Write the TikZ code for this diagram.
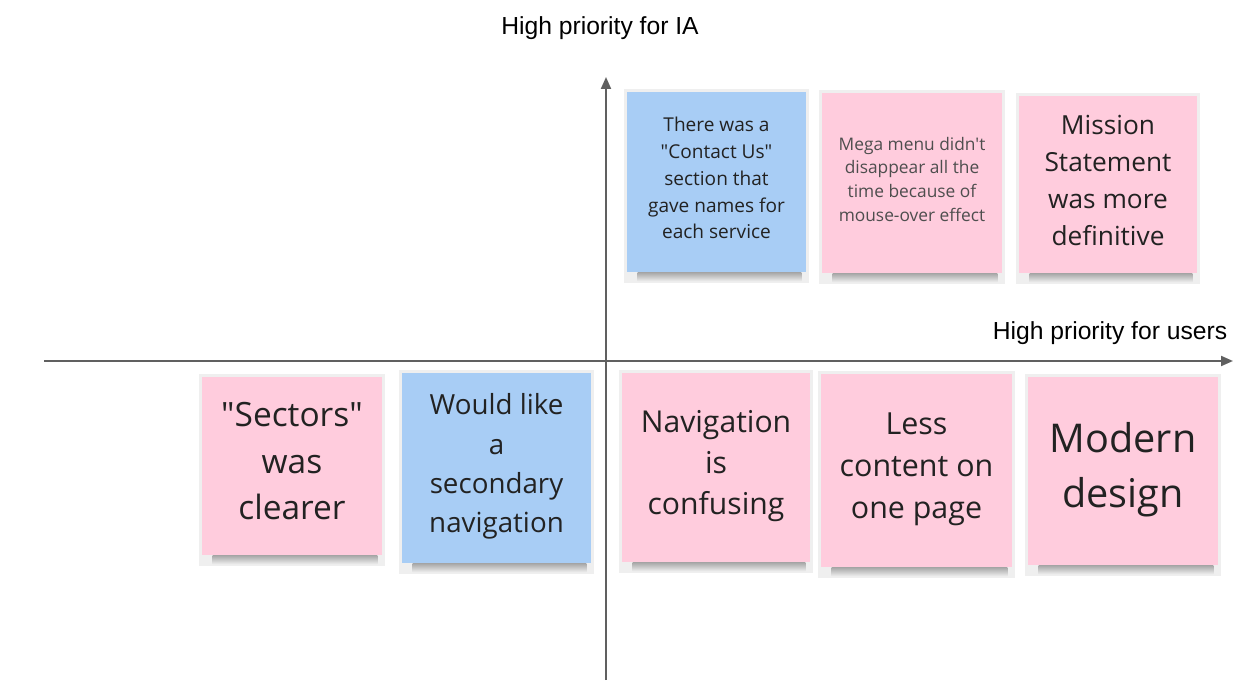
\documentclass[tikz,border=0pt]{standalone}
\usepackage{fontspec}
\setmainfont{Open Sans}[Ligatures=TeXOff]
\newfontfamily\labelfont{Liberation Sans}
\usetikzlibrary{arrows.meta,calc,backgrounds}

\definecolor{notepink}{HTML}{FFCCDD}
\definecolor{noteblue}{HTML}{A8CDF5}
\definecolor{noteframe}{HTML}{EFEFEF}
\definecolor{axisgray}{HTML}{606060}
\definecolor{notetext}{HTML}{222222}

% lines of a sticky note, lifted a little above the middle
\newcommand{\notelines}[1]{\raisebox{1.5pt}[\height][\depth]{\begin{tabular}{@{}c@{}}#1\end{tabular}}}

\tikzset{
	note/.style={rectangle, inner sep=0pt, align=center, text=notetext},
	pinknote/.style={note, fill=notepink},
	bluenote/.style={note, fill=noteblue},
	axis/.style={draw=axisgray, line width=1.5pt, -{Triangle[length=9pt,width=7.5pt]}},
	axislabel/.style={font=\labelfont\fontsize{18.5}{22}\selectfont, text=black}
}

\begin{document}
\begin{tikzpicture}[x=0.75pt, y=-0.75pt]
	\useasboundingbox (0,0) rectangle (1240,695);

	% axes
	\coordinate (ybot) at (606,680);
	\coordinate (ytop) at (606,77);
	\coordinate (xleft) at (44,361);
	\coordinate (xright) at (1233,361);
	\draw[axis] (ybot) -- (ytop);
	\draw[axis] (xleft) -- (xright);
	\node[axislabel] (ialabel) at (600,28) {High priority for IA};
	\node[axislabel] (userlabel) at (1110,333) {High priority for users};

	% upper right quadrant
	\node[bluenote, minimum width=134.25pt, minimum height=135pt, font=\fontsize{14.3}{20.1}\selectfont] (contact) at (716.5,182) {\notelines{There was a\\"Contact Us"\\section that\\gave names for\\each service}};
	\node[pinknote, minimum width=135pt, minimum height=135pt, font=\fontsize{13}{17.8}\selectfont, text=notetext!80] (megamenu) at (912,183) {\notelines{Mega menu didn't\\disappear all the\\time because of\\mouse-over effect}};
	\node[pinknote, minimum width=133.5pt, minimum height=132.75pt, font=\fontsize{19.7}{27.75}\selectfont] (mission) at (1108,184.5) {\notelines{Mission\\Statement\\was more\\definitive}};

	% lower half
	\node[pinknote, minimum width=135pt, minimum height=133.5pt, font=\fontsize{25.1}{34.9}\selectfont] (sectors) at (292,466) {\notelines{"Sectors"\\was\\clearer}};
	\node[bluenote, minimum width=141.75pt, minimum height=142.5pt, font=\fontsize{20.8}{29.5}\selectfont] (secondary) at (496.5,468) {\notelines{Would like\\a\\secondary\\navigation}};
	\node[pinknote, minimum width=141pt, minimum height=141.75pt, font=\fontsize{22.6}{30.75}\selectfont] (navigation) at (716,467.5) {\notelines{Navigation\\is\\confusing}};
	\node[pinknote, minimum width=143.25pt, minimum height=144.75pt, font=\fontsize{22.8}{31.5}\selectfont] (lesscontent) at (916.5,470.5) {\notelines{Less\\content on\\one page}};
	\node[pinknote, minimum width=142.5pt, minimum height=141pt, font=\fontsize{29.7}{41.25}\selectfont] (modern) at (1123,471) {\notelines{Modern\\design}};

	% frames and shadows behind the notes
	\begin{scope}[on background layer]
		\foreach \n in {contact,megamenu,mission,sectors,secondary,navigation,lesscontent,modern}{
			\fill[noteframe] ($(\n.north west)+(-3,-3)$) rectangle ($(\n.south east)+(3,11)$);
			\shade[top color=black!35, bottom color=noteframe] ($(\n.south west)+(11,0)$) rectangle ($(\n.south east)+(-5,9)$);
		}
	\end{scope}
\end{tikzpicture}
\end{document}
